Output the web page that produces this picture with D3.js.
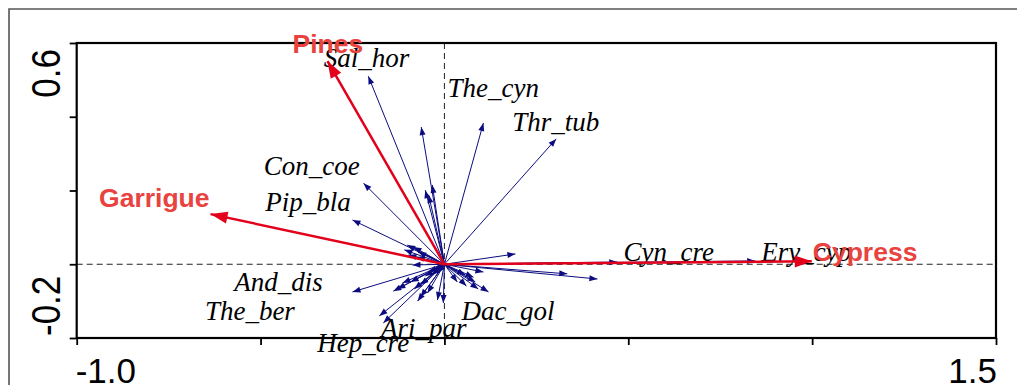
<!DOCTYPE html>
<html>
<head>
<meta charset="utf-8">
<script src="https://cdn.jsdelivr.net/npm/d3@7"></script>
<style>
  html, body { margin: 0; padding: 0; background: #fff; }
  svg { display: block; }
</style>
</head>
<body>
<svg id="chart" width="1017" height="385"></svg>
<script>
// Axis ticks and the two end labels that are printed
const xTicks = [-1.0, -0.5, 0, 0.5, 1.0, 1.5];
const yTicks = [-0.2, 0, 0.2, 0.4, 0.6];
const xTickLabels = ["-1.0", "1.5"];
const yTickLabels = ["0.6", "-0.2"];

// Species vectors (arrow tips, ordination units)
const speciesX = [-0.207, 0.106, 0.304, -0.063, -0.220, -0.250, -0.052, -0.033, -0.043,
  -0.101, -0.109, -0.084, -0.071, -0.098, -0.076, -0.087,
  -0.250, -0.177, -0.166, -0.139, -0.128, -0.073, -0.065, -0.046, -0.019, -0.003,
  -0.043, -0.030, -0.052, -0.035, -0.019,
  0.035, 0.060, 0.084, 0.092, 0.120, 0.057, 0.079, 0.106,
  0.193, 0.334, 0.416, 0.470, 0.845,
  -0.092, -0.065, -0.082, -0.114];
const speciesY = [0.510, 0.383, 0.340, 0.372, 0.220, 0.120, 0.201, 0.215, 0.188,
  0.052, 0.039, 0.047, 0.033, 0.025, 0.020, -0.002,
  -0.075, -0.140, -0.159, -0.073, -0.067, -0.100, -0.089, -0.078, -0.097, -0.105,
  -0.021, -0.016, -0.032, -0.029, -0.024,
  -0.048, -0.059, -0.048, -0.067, -0.075, -0.029, -0.035, -0.021,
  0.028, -0.026, -0.040, 0.006, 0.009,
  -0.048, -0.056, -0.067, -0.051];

// Named species (label centre x, baseline y)
const speciesNames = ["Sal_hor", "The_cyn", "Thr_tub", "Con_coe", "Pip_bla", "And_dis",
  "The_ber", "Hep_cre", "Ari_par", "Dac_gol", "Cyn_cre", "Ery_cyp"];
const speciesLabelX = [-0.212, 0.133, 0.303, -0.361, -0.371, -0.451,
  -0.529, -0.221, -0.056, 0.173, 0.610, 0.984];
const speciesLabelY = [0.535, 0.453, 0.361, 0.242, 0.145, -0.073,
  -0.152, -0.239, -0.198, -0.152, 0.008, 0.008];

// Habitat vectors
const habitatNames = ["Pines", "Garrigue", "Cypress"];
const habitatX = [-0.318, -0.636, 0.999];
const habitatY = [0.551, 0.136, 0.008];
const habitatLabelX = [-0.317, -0.789, 1.144];
const habitatLabelY = [0.573, 0.155, 0.009];

const svg = d3.select("#chart");
const plotLeft = 76.7, plotRight = 996, plotTop = 43, plotBottom = 338;

const x = d3.scaleLinear().domain([-1, 1.5]).range([plotLeft, plotRight]);
const y = d3.scaleLinear().domain([-0.2, 0.6]).range([plotBottom, plotTop]);

// Outer frame
svg.append("path")
  .attr("d", `M9,${385 + 5} L9,9 L${1017 + 5},9`)
  .attr("fill", "none").attr("stroke", "#555").attr("stroke-width", 1.6);

// Axes (tick marks only; labels placed separately)
const xAxis = svg.append("g").attr("transform", `translate(0,${plotBottom})`)
  .call(d3.axisBottom(x).tickValues(xTicks).tickSize(7).tickSizeOuter(0).tickFormat(""));
const yAxis = svg.append("g").attr("transform", `translate(${plotLeft},0)`)
  .call(d3.axisLeft(y).tickValues(yTicks).tickSize(7).tickSizeOuter(0).tickFormat(""));
[xAxis, yAxis].forEach(g => {
  g.select(".domain").remove();
  g.selectAll(".tick line").attr("stroke", "#000").attr("stroke-width", 1.8);
});

// Dashed zero lines
svg.append("line")
  .attr("x1", x(-1)).attr("x2", x(1.5)).attr("y1", y(0)).attr("y2", y(0))
  .attr("stroke", "#222").attr("stroke-width", 1).attr("stroke-dasharray", "6,4");
svg.append("line")
  .attr("x1", x(0)).attr("x2", x(0)).attr("y1", y(0.6)).attr("y2", y(-0.2))
  .attr("stroke", "#222").attr("stroke-width", 1).attr("stroke-dasharray", "6,4");

// Plot box
svg.append("rect")
  .attr("x", plotLeft).attr("y", plotTop)
  .attr("width", plotRight - plotLeft).attr("height", plotBottom - plotTop)
  .attr("fill", "none").attr("stroke", "#000").attr("stroke-width", 2.2);

// Tick labels
const tickFont = "'Liberation Sans', Arial, sans-serif";
svg.append("text").text(xTickLabels[0])
  .attr("x", x(-1) - 1).attr("y", 383).attr("text-anchor", "start")
  .attr("font-family", tickFont).attr("font-size", 35).attr("fill", "#000");
svg.append("text").text(xTickLabels[1])
  .attr("x", x(1.5) + 1).attr("y", 383).attr("text-anchor", "end")
  .attr("font-family", tickFont).attr("font-size", 35).attr("fill", "#000");
svg.append("text").text(yTickLabels[0])
  .attr("transform", `translate(60,${y(0.6) + 6}) rotate(-90) scale(1,1.15)`)
  .attr("text-anchor", "end")
  .attr("font-family", tickFont).attr("font-size", 35).attr("fill", "#000");
svg.append("text").text(yTickLabels[1])
  .attr("transform", `translate(60,${y(-0.2) - 2}) rotate(-90) scale(1,1.15)`)
  .attr("text-anchor", "start")
  .attr("font-family", tickFont).attr("font-size", 35).attr("fill", "#000");

// Arrow helper
function arrowHead(x0, y0, x1, y1, len, half) {
  const a = Math.atan2(y1 - y0, x1 - x0);
  const bx = x1 - len * Math.cos(a), by = y1 - len * Math.sin(a);
  const px = -Math.sin(a) * half, py = Math.cos(a) * half;
  return `M${x1},${y1} L${bx + px},${by + py} L${bx - px},${by - py} Z`;
}

// Species arrows
const species = speciesX.map((v, i) => ({ x: v, y: speciesY[i] }));
const sp = svg.append("g");
sp.selectAll("line").data(species).join("line")
  .attr("x1", x(0)).attr("y1", y(0))
  .attr("x2", d => x(d.x)).attr("y2", d => y(d.y))
  .attr("stroke", "#0c0c80").attr("stroke-width", 1);
sp.selectAll("path").data(species).join("path")
  .attr("d", d => arrowHead(x(0), y(0), x(d.x), y(d.y), 8, 3))
  .attr("fill", "#0c0c80");

// Species names
const labels = speciesNames.map((n, i) => ({ name: n, x: speciesLabelX[i], y: speciesLabelY[i] }));
svg.append("g").selectAll("text").data(labels).join("text")
  .text(d => d.name)
  .attr("x", d => x(d.x)).attr("y", d => y(d.y))
  .attr("text-anchor", "middle")
  .attr("font-family", "'Liberation Serif', 'Times New Roman', serif")
  .attr("font-style", "italic").attr("font-size", 27).attr("fill", "#000");

// Habitat arrows and names, drawn on top
const habitats = habitatNames.map((n, i) => ({
  name: n, x: habitatX[i], y: habitatY[i], lx: habitatLabelX[i], ly: habitatLabelY[i]
}));
const hg = svg.append("g");
hg.selectAll("line").data(habitats).join("line")
  .attr("x1", x(0)).attr("y1", y(0))
  .attr("x2", d => x(d.x)).attr("y2", d => y(d.y))
  .attr("stroke", "#e2001a").attr("stroke-width", 2.5);
hg.selectAll("path").data(habitats).join("path")
  .attr("d", d => arrowHead(x(0), y(0), x(d.x), y(d.y), 17, 6))
  .attr("fill", "#e2001a");
hg.selectAll("text").data(habitats).join("text")
  .text(d => d.name)
  .attr("x", d => x(d.lx)).attr("y", d => y(d.ly))
  .attr("text-anchor", "middle")
  .attr("font-family", tickFont).attr("font-weight", "bold").attr("font-size", 26.5)
  .attr("fill", "#e8433f");
</script>
</body>
</html>
